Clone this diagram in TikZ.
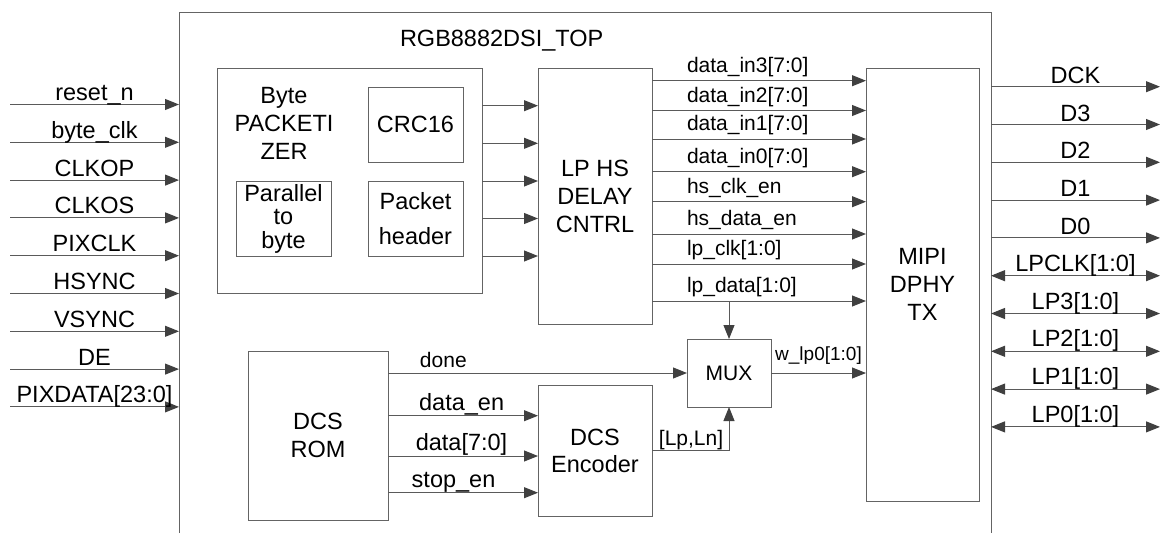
\documentclass[tikz,border=0pt]{standalone}
\usepackage{fontspec}
\setmainfont{Liberation Sans}
\usetikzlibrary{arrows.meta}
\definecolor{linec}{RGB}{90,90,90}
\definecolor{tipc}{RGB}{64,64,64}
\definecolor{boxc}{RGB}{100,100,100}
\newcommand\fbig{\fontsize{23.5}{28}\selectfont}
\newcommand\fmid{\fontsize{21}{25}\selectfont}
\newcommand\fsml{\fontsize{19}{23}\selectfont}
\begin{document}
\begin{tikzpicture}[x=1pt,y=-1pt,
  every node/.style={inner sep=0pt, outer sep=0pt, font=\fbig, text=black},
  box/.style={draw=boxc, line width=1pt, align=center},
  edge/.style={draw=boxc, line width=1pt},
  sig/.style={draw=linec, line width=1pt, -{Triangle[length=14pt,width=11pt,color=tipc]}},
  bisig/.style={draw=linec, line width=1pt, {Triangle[length=14pt,width=11pt,color=tipc]}-{Triangle[length=14pt,width=11pt,color=tipc]}}]
\useasboundingbox (0,0) rectangle (1165,533);

% top-level module frame (open at the bottom)
\node[minimum width=812, minimum height=521] (top) at (585,272.5) {};
\draw[edge] (top.south west) |- (top.north east) -- (top.south east);
\node[anchor=base west] (title) at (400,46) {RGB8882DSI\_TOP};

% byte packetizer and its sub-blocks
\node[box, minimum width=265, minimum height=225] (pkt) at (349.5,180.5) {};
\node[align=center] (pkttxt) at (284,123.5) {Byte\\PACKETI\\ZER};
\node[box, minimum width=95, minimum height=75] (crc) at (415.5,124.5) {CRC16};
\node[box, minimum width=95, minimum height=75, font=\fontsize{23.5}{23.5}\selectfont] (par) at (283.5,218.5) {Parallel\\to\\byte};
\node[box, minimum width=95, minimum height=75, font=\fontsize{23.5}{35}\selectfont] (hdr) at (415.5,218.5) {Packet\\header};

% main blocks
\node[box, minimum width=114, minimum height=256] (lp) at (595,196) {LP HS\\DELAY\\CNTRL};
\node[box, minimum width=113, minimum height=433] (mipi) at (922.5,284.5) {MIPI\\DPHY\\TX};
\node[box, minimum width=84, minimum height=68, font=\fmid] (mux) at (729,373) {MUX};
\node[box, minimum width=140, minimum height=169] (rom) at (318,435.5) {DCS\\ROM};
\node[box, minimum width=114, minimum height=131, font=\fontsize{23.5}{27}\selectfont] (enc) at (595,450.5) {DCS\\Encoder};

% module inputs
\foreach \t [count=\i from 0] in {reset\_n,byte\_clk,CLKOP,CLKOS,PIXCLK,HSYNC,VSYNC,DE,PIXDATA[23:0]} {
  \coordinate (in\i) at (10,{104.5+37.8*\i});
  \draw[sig] (in\i) -- (in\i -| top.west) node[midway, anchor=base, yshift=4pt] {\t};
}

% module outputs
\foreach \t [count=\i from 0] in {DCK,D3,D2,D1,D0} {
  \coordinate (out\i) at (1160,{86.7+37.8*\i});
  \draw[sig] (out\i -| top.east) -- (out\i) node[midway, anchor=base, yshift=3.5pt] {\t};
}
\foreach \t [count=\i from 5] in {LPCLK[1:0],LP3[1:0],LP2[1:0],LP1[1:0],LP0[1:0]} {
  \coordinate (out\i) at (1160,{86.7+37.8*\i});
  \draw[bisig] (out\i -| top.east) -- (out\i) node[midway, anchor=base, yshift=4.5pt] {\t};
}

% packetizer to delay control
\foreach \yy [count=\i] in {105.7,143.3,181,218.5,256} {
  \coordinate (p\i) at (500,\yy);
  \draw[sig] (p\i -| pkt.east) -- (p\i -| lp.west);
}

% delay control to D-PHY
\foreach \t/\yy [count=\i] in {data\_in3[7:0]/80.7,data\_in2[7:0]/110.5,data\_in1[7:0]/139,data\_in0[7:0]/171.7,hs\_clk\_en/201.7,hs\_data\_en/234,lp\_clk[1:0]/264,lp\_data[1:0]/301} {
  \coordinate (h\i) at (700,\yy);
  \draw[sig] (h\i -| lp.east) -- (h\i -| mipi.west) node[pos=0.1636, anchor=base west, yshift=8.5pt, font=\fmid] {\t};
}
\draw[sig] (h8 -| mux.north) -- (mux.north);

% DCS path
\draw[sig] (rom.east |- mux.west) -- (mux.west) node[pos=0.107, anchor=base west, yshift=6pt, font=\fmid] {done};
\draw[sig] (mux.east) -- (mux.east -| mipi.west) node[midway, anchor=base, yshift=13pt, font=\fsml] {w\_lp0[1:0]};
\foreach \t/\yy/\p [count=\i] in {data\_en/415.7/0.491,data[7:0]/456/0.49,stop\_en/492.7/0.437} {
  \coordinate (r\i) at (450,\yy);
  \draw[sig] (r\i -| rom.east) -- (r\i -| enc.west) node[pos=\p, anchor=base, yshift=5.5pt] {\t};
}
\coordinate (lpln) at (660,450.7);
\draw[sig] (lpln -| enc.east) -| (mux.south) node[pos=0.045, anchor=base west, yshift=5.5pt, font=\fmid] {[Lp,Ln]};
\end{tikzpicture}
\end{document}
